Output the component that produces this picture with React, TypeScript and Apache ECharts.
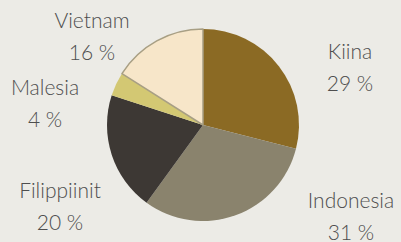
import React, { useEffect, useRef } from "react";
import * as echarts from "echarts";

const countries = ["Kiina", "Indonesia", "Filippiinit", "Malesia", "Vietnam"];
const shares = [29, 31, 20, 4, 16];
const colors = ["#8b6a24", "#8a836d", "#3d3834", "#d3c873", "#f7e6c9"];
const labelCenters: [number, number][] = [
  [350, 66],
  [351, 215],
  [60, 205],
  [45, 102],
  [92, 35],
];

export default function App() {
  const ref = useRef<HTMLDivElement>(null);
  useEffect(() => {
    document.body.style.margin = "0";
    const chart = echarts.init(ref.current!, undefined, { renderer: "svg" });
    chart.setOption({
      animation: false,
      backgroundColor: "#ecebe6",
      series: [
        {
          type: "pie",
          center: [203, 125],
          radius: 96,
          startAngle: 90,
          clockwise: true,
          data: countries.map((n, i) => ({
            name: n,
            value: shares[i],
            itemStyle: {
              color: colors[i],
              borderColor: i === 4 ? "#a89f84" : colors[i],
              borderWidth: i === 4 ? 1.5 : 0,
            },
          })),
          label: {
            show: true,
            position: "outside",
            formatter: (p: any) => `${p.name}\n${p.value} %`,
            fontFamily: "Lato, 'Open Sans', sans-serif",
            fontWeight: 300,
            fontSize: 21,
            lineHeight: 32,
            color: "#4e4e4e",
            align: "center",
            overflow: "none",
          },
          labelLine: { show: false },
          labelLayout: (params: any) => {
            const c = labelCenters[params.dataIndex];
            return { x: c[0], y: c[1], align: "center", verticalAlign: "middle", width: 200 };
          },
          emphasis: { disabled: true },
        },
      ],
    });
    return () => chart.dispose();
  }, []);
  return <div ref={ref} style={{ width: 401, height: 242 }} />;
}
